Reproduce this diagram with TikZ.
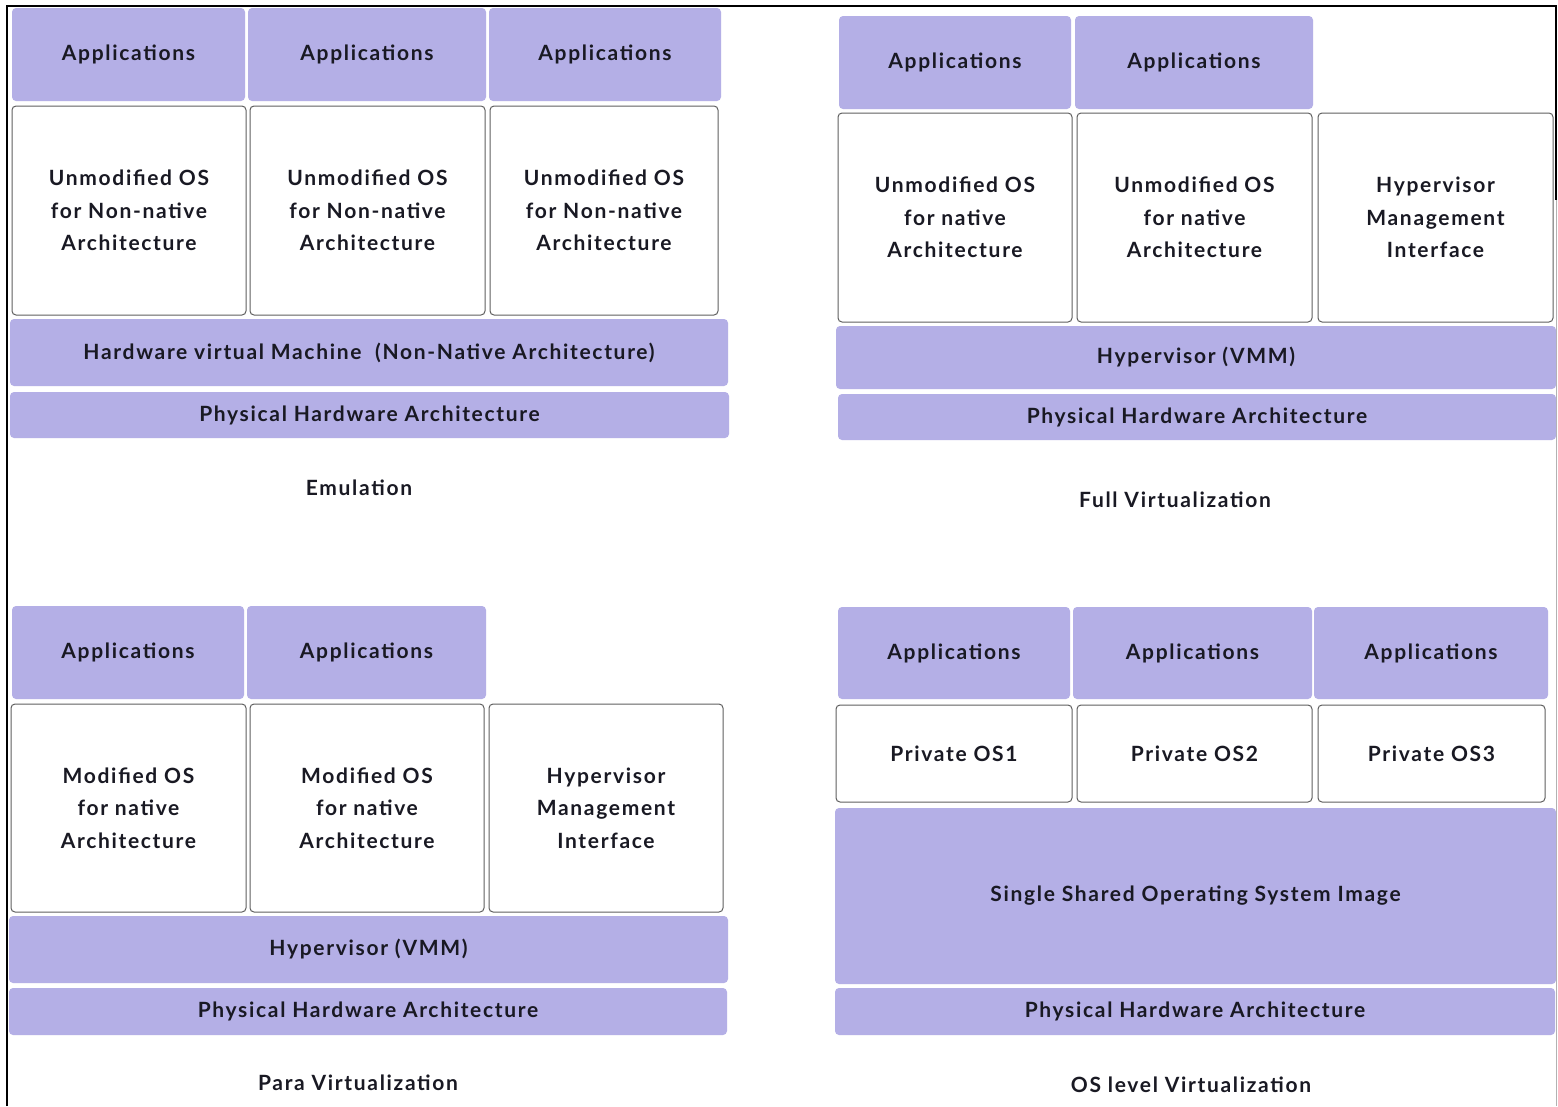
\documentclass[tikz,border=0pt]{standalone}
\usepackage{fontspec}
\setmainfont{Lato}[LetterSpace=8]
\definecolor{layer}{RGB}{180,175,230}
\definecolor{ink}{RGB}{25,25,35}
\begin{document}
\begin{tikzpicture}[x=1pt,y=-1pt,
  every node/.style={font=\fontsize{21}{32.5}\selectfont\bfseries, text=ink, align=center, inner sep=0pt, outer sep=0pt},
  appbox/.style={rectangle, rounded corners=4pt, fill=layer},
  osbox/.style={rectangle, rounded corners=4pt, fill=white, draw=gray!75!black, line width=1pt},
  layerbar/.style={rectangle, rounded corners=4pt, fill=layer},
  caption/.style={}
]
\useasboundingbox (0,0) rectangle (1558,1106);
\fill[white] (0,0) rectangle (1558,1106);
% outer frame
\draw[gray!60, line width=1pt] (1556,6) -- (1556,1106);
\draw[black, line width=2pt] (7,1106) -- (7,6) -- (1556,6) -- (1556,200);

% ---------- Emulation ----------
\node[appbox, minimum width=233, minimum height=93] (eA1) at (128.5,54.5) {Applications};
\node[appbox, minimum width=238, minimum height=93] (eA2) at (367,54.5) {Applications};
\node[appbox, minimum width=232, minimum height=93] (eA3) at (605,54.5) {Applications};
\node[osbox, minimum width=234, minimum height=209] (eO1) at (129,210.5) {Unmodified OS\\for Non-native\\Architecture};
\node[osbox, minimum width=235, minimum height=209] (eO2) at (367.5,210.5) {Unmodified OS\\for Non-native\\Architecture};
\node[osbox, minimum width=228, minimum height=209] (eO3) at (604,210.5) {Unmodified OS\\for Non-native\\Architecture};
\node[layerbar, minimum width=718, minimum height=67] (eH) at (369,352.5) {Hardware virtual Machine\ \ (Non-Native Architecture)};
\node[layerbar, minimum width=719, minimum height=46] (eP) at (369.5,415) {Physical Hardware Architecture};
\node[caption] (eL) at (359,488) {Emulation};

% ---------- Full Virtualization ----------
\node[appbox, minimum width=232, minimum height=93] (fA1) at (955,62.5) {Applications};
\node[appbox, minimum width=238, minimum height=93] (fA2) at (1194,62.5) {Applications};
\node[osbox, minimum width=234, minimum height=209] (fO1) at (955,217.5) {Unmodified OS\\for native\\Architecture};
\node[osbox, minimum width=235, minimum height=209] (fO2) at (1194.5,217.5) {Unmodified OS\\for native\\Architecture};
\node[osbox, minimum width=235, minimum height=209] (fO3) at (1435.5,217.5) {Hypervisor\\Management\\Interface};
\node[layerbar, minimum width=720, minimum height=63] (fH) at (1196,357.5) {Hypervisor (VMM)};
\node[layerbar, minimum width=718, minimum height=46] (fP) at (1197,417) {Physical Hardware Architecture};
\node[caption] (fL) at (1175,500) {Full Virtualization};

% ---------- Para Virtualization ----------
\node[appbox, minimum width=232, minimum height=93] (pA1) at (128,652.5) {Applications};
\node[appbox, minimum width=239, minimum height=93] (pA2) at (366.5,652.5) {Applications};
\node[osbox, minimum width=235, minimum height=208] (pO1) at (128.5,808) {Modified OS\\for native\\Architecture};
\node[osbox, minimum width=234, minimum height=208] (pO2) at (367,808) {Modified OS\\for native\\Architecture};
\node[osbox, minimum width=234, minimum height=208] (pO3) at (606,808) {Hypervisor\\Management\\Interface};
\node[layerbar, minimum width=719, minimum height=67] (pH) at (368.5,949.5) {Hypervisor (VMM)};
\node[layerbar, minimum width=718, minimum height=47] (pP) at (368,1011.5) {Physical Hardware Architecture};
\node[caption] (pL) at (358,1083) {Para Virtualization};

% ---------- OS level Virtualization ----------
\node[appbox, minimum width=232, minimum height=92] (oA1) at (954,653) {Applications};
\node[appbox, minimum width=239, minimum height=92] (oA2) at (1192.5,653) {Applications};
\node[appbox, minimum width=234, minimum height=92] (oA3) at (1431,653) {Applications};
\node[osbox, minimum width=236, minimum height=97] (oO1) at (954,753.5) {Private OS1};
\node[osbox, minimum width=235, minimum height=97] (oO2) at (1194.5,753.5) {Private OS2};
\node[osbox, minimum width=227, minimum height=97] (oO3) at (1431.5,753.5) {Private OS3};
\node[layerbar, minimum width=721, minimum height=176] (oS) at (1195.5,896) {Single Shared Operating System Image};
\node[layerbar, minimum width=720, minimum height=47] (oP) at (1195,1011.5) {Physical Hardware Architecture};
\node[caption] (oL) at (1191,1085) {OS level Virtualization};
\end{tikzpicture}
\end{document}
